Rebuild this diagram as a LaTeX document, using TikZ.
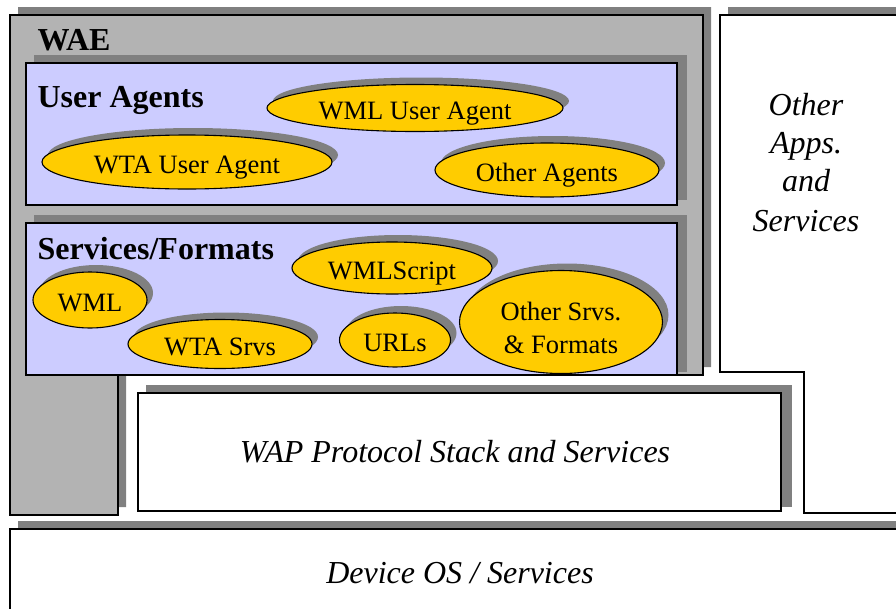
\documentclass[tikz,border=0pt]{standalone}
\usepackage{fontspec}
\setmainfont{Liberation Serif}
\usetikzlibrary{shapes.geometric,shadows}
\definecolor{waegray}{HTML}{B3B3B3}
\definecolor{shadegray}{HTML}{808080}
\definecolor{lav}{HTML}{CCCCFF}
\definecolor{gold}{HTML}{FFCC00}
\begin{document}
\begin{tikzpicture}[x=1pt,y=-1pt,line width=1.2pt,line join=miter,
  shd/.style={fill=shadegray,draw=none},
  ell/.style={ellipse,draw=black,fill=gold,line width=1.1pt,inner sep=0pt,
    font=\fontsize{26.5}{33}\selectfont,text height=22pt,text depth=0pt,
    drop shadow={shadow xshift=6pt,shadow yshift=7pt,fill=shadegray,opacity=1}},
  etxt/.style={font=\fontsize{26.5}{33}\selectfont,inner sep=0pt,anchor=base},
  head/.style={font=\fontsize{32}{38}\selectfont\bfseries,anchor=base west,inner sep=0pt},
  ital/.style={font=\fontsize{32}{38.5}\selectfont\itshape,inner sep=0pt,anchor=base}]
\useasboundingbox[fill=white] (0,0) rectangle (896,608);
\clip (0,0) rectangle (896,608);
% Device OS / Services
\fill[shd] (18,521) rectangle (910,630);
\draw[fill=white] (10,529) rectangle (910,630);
% Other Apps and Services
\fill[shd] (728,7) -- (910,7) -- (910,505) -- (812,505) -- (812,364) -- (728,364) -- cycle;
\draw[fill=white] (720,15) -- (910,15) -- (910,513) -- (804,513) -- (804,372) -- (720,372) -- cycle;
% WAP protocol stack
\fill[shd] (146,385) rectangle (792,507);
\draw[fill=white] (138,393) rectangle (781,511);
% WAE L-shape
\fill[shd] (18,7) -- (711,7) -- (711,367) -- (126,367) -- (126,507) -- (18,507) -- cycle;
\draw[fill=waegray] (10,15) -- (703,15) -- (703,375) -- (118,375) -- (118,515) -- (10,515) -- cycle;
% User Agents box
\fill[shd] (34,55) rectangle (687,200);
\draw[fill=lav] (26,63) rectangle (677,205);
% Services/Formats box
\fill[shd] (34,215) rectangle (687,372);
\draw[fill=lav] (26,223) rectangle (677,375);
% headers
\node[head] (wae) at (37,50) {WAE};
\node[head] (ua) at (37,107) {User Agents};
\node[head] (sf) at (37,259) {Services/Formats};
% ellipses
\node[ell,minimum width=296pt,minimum height=47pt] (wmlua) at (415,108) {WML User Agent};
\node[ell,minimum width=290pt,minimum height=54pt] (wtaua) at (187,162) {WTA User Agent};
\node[ell,minimum width=224pt,minimum height=54pt] (oag) at (547,170) {Other Agents};
\node[ell,minimum width=200pt,minimum height=52pt] (wmls) at (392,268) {WMLScript};
\node[ell,minimum width=114pt,minimum height=56pt] (wml) at (90,300) {WML};
\node[ell,minimum width=184pt,minimum height=49pt] (wtas) at (220,344) {WTA Srvs};
\node[ell,minimum width=111pt,minimum height=54pt] (urls) at (395,340) {URLs};
\node[ell,minimum width=203pt,minimum height=103pt] (osf) at (561,322) {};
\node[etxt] (osf1) at (561,320) {Other Srvs.};
\node[etxt] (osf2) at (561,353) {\& Formats};
% italic texts
\node[ital] (oa1) at (806,115) {Other};
\node[ital] (oa2) at (806,153) {Apps.};
\node[ital] (oa3) at (806,191) {and};
\node[ital] (oa4) at (806,231) {Services};
\node[ital] (wap) at (455,462) {WAP Protocol Stack and Services};
\node[ital] (dos) at (460,583) {Device OS / Services};
\end{tikzpicture}
\end{document}
